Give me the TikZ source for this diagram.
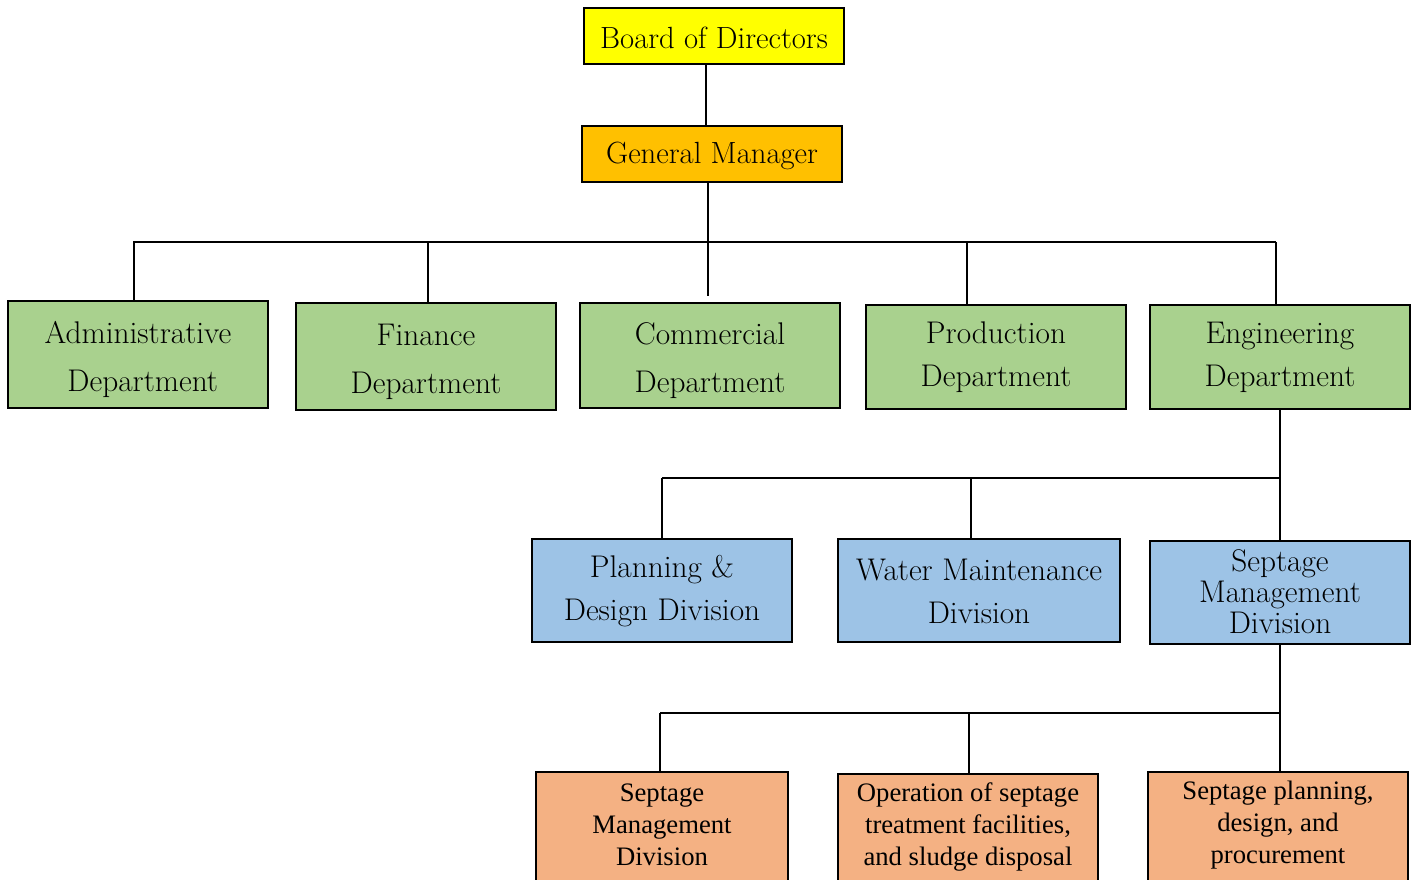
\documentclass[tikz,border=0pt]{standalone}
\usepackage{fontspec}
\newfontfamily\tnr{Liberation Serif}
\usetikzlibrary{fit}
\definecolor{gfill}{HTML}{A9D18E}
\definecolor{bfill}{HTML}{9DC3E6}
\definecolor{ofill}{HTML}{F4B183}
\definecolor{gmfill}{HTML}{FFC000}
\definecolor{yfill}{HTML}{FFFF00}
\begin{document}
\begin{tikzpicture}[x=0.75pt,y=-0.75pt,
  box/.style={draw=black,line width=1.4pt,inner sep=0pt},
  lbl/.style={align=center,inner sep=0pt},
  conn/.style={line width=1.9pt,draw=black},
  topfont/.style={lbl,font=\fontsize{23}{27}\selectfont},
  gwide/.style={lbl,font=\fontsize{23.5}{36}\selectfont},
  gnarrow/.style={lbl,font=\fontsize{23.5}{32.25}\selectfont},
  btight/.style={lbl,font=\fontsize{23.5}{23.25}\selectfont},
  otext/.style={lbl,font=\tnr\fontsize{20}{24}\selectfont}]
\useasboundingbox (0,0) rectangle (1417,879);
\clip (0,0) rectangle (1417,879);

% top
\node[box,fill=yfill,fit={(584,8)(844,64)}] (bod) {};
\node[box,fill=gmfill,fit={(582,126)(842,182)}] (gm) {};
\node[topfont] (tbod) at ([yshift=-1.5pt]bod.center) {Board of Directors};
\node[topfont] (tgm) at ([yshift=-1.5pt]gm.center) {General Manager};

% departments
\node[box,fill=gfill,fit={(8,301)(268,408)}] (adm) {};
\node[box,fill=gfill,fit={(296,303)(556,410)}] (fin) {};
\node[box,fill=gfill,fit={(580,303)(840,408)}] (com) {};
\node[box,fill=gfill,fit={(866,305)(1126,409)}] (pro) {};
\node[box,fill=gfill,fit={(1150,305)(1410,409)}] (eng) {};
\node[gwide] (tadm) at ([yshift=-3.8pt]adm.center) {Administrative\\ \ Department};
\node[gwide] (tfin) at ([yshift=-3.8pt]fin.center) {Finance\\Department};
\node[gwide] (tcom) at ([yshift=-3.8pt]com.center) {Commercial\\Department};
\node[gnarrow] (tpro) at ([yshift=-0.3pt]pro.center) {Production\\Department};
\node[gnarrow] (teng) at ([yshift=-0.3pt]eng.center) {Engineering\\Department};

% divisions
\node[box,fill=bfill,fit={(532,539)(792,642)}] (pla) {};
\node[box,fill=bfill,fit={(838,539)(1120,642)}] (wat) {};
\node[box,fill=bfill,fit={(1150,541)(1410,644)}] (sep) {};
\node[gnarrow] (tpla) at ([yshift=-0.5pt]pla.center) {Planning \&\\Design Division};
\node[gnarrow] (twat) at ([yshift=-0.5pt]wat.center) {Water Maintenance\\Division};
\node[btight] (tsep) at ([yshift=0.5pt]sep.center) {Septage\\Management\\Division};

% sections (cut at the bottom)
\node[box,fill=ofill,fit={(536,772)(788,905)}] (o1) {};
\node[box,fill=ofill,fit={(838,774)(1098,905)}] (o2) {};
\node[box,fill=ofill,fit={(1148,772)(1408,905)}] (o3) {};
\node[otext] (t1) at (662,825) {Septage\\Management\\Division};
\node[otext] (t2) at (968,827) {Operation of septage\\treatment facilities,\\and sludge disposal};
\node[otext] (t3) at (1278,825) {Septage planning,\\design, and\\procurement};

% connectors
\coordinate (c1) at (706,64);
\coordinate (c2) at (708,182);
\draw[conn] (c1) -- (c1 |- gm.north);
\coordinate (bL) at (133,242);
\coordinate (bR) at (1276,242);
\coordinate (jA) at (134,242);
\coordinate (jF) at (428,242);
\coordinate (jP) at (967,242);
\draw[conn,shorten >=4.5pt] (c2) -- (c2 |- com.north);
\draw[conn] (bL) -- (bR);
\draw[conn] (jA) -- (jA |- adm.north);
\draw[conn] (jF) -- (jF |- fin.north);
\draw[conn] (jP) -- (jP |- pro.north);
\draw[conn] (bR) -- (bR |- eng.north);

\coordinate (m1) at (662,478);
\coordinate (m2) at (971,478);
\coordinate (m3) at (1280,478);
\draw[conn] (eng.south) -- (sep.north);
\draw[conn] (m1) -- (m3);
\draw[conn] (m1) -- (m1 |- pla.north);
\draw[conn] (m2) -- (m2 |- wat.north);

\coordinate (l1) at (660,713);
\coordinate (l2) at (969,713);
\coordinate (l3) at (1279,713);
\draw[conn] (sep.south) -- (sep.south |- o3.north);
\draw[conn] (l1) -- (l3);
\draw[conn] (l1) -- (l1 |- o1.north);
\draw[conn] (l2) -- (l2 |- o2.north);
\end{tikzpicture}
\end{document}
